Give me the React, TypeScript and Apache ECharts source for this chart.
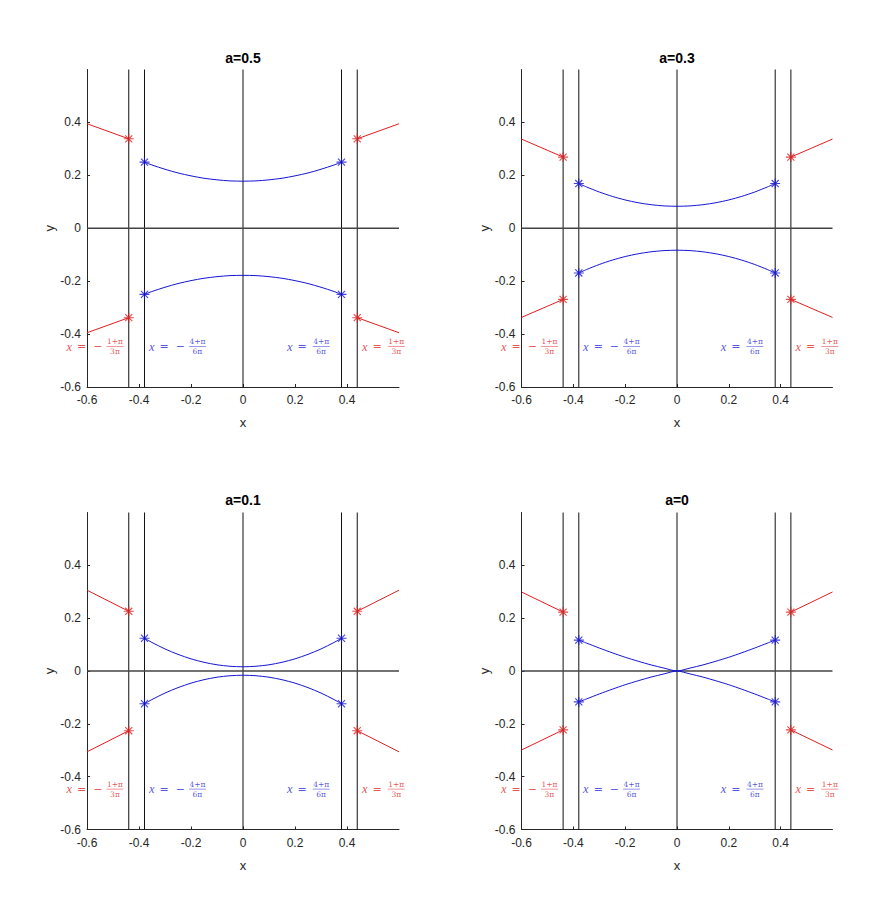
import React, { useEffect, useRef } from 'react';
import * as echarts from 'echarts';

// ---------- data ----------
const TITLES = ['a=0.5', 'a=0.3', 'a=0.1', 'a=0'];
const X_TICKS = [-0.6, -0.4, -0.2, 0, 0.2, 0.4];
const Y_TICKS = [-0.6, -0.4, -0.2, 0, 0.2, 0.4];
const X_MIN = -0.6;
const X_MAX = 0.6;
const Y_MIN = -0.6;
const Y_MAX = 0.6;

// vertical reference lines: -(1+pi)/(3pi), -(4+pi)/(6pi), 0, (4+pi)/(6pi), (1+pi)/(3pi)
const V_LINES = [-0.4394, -0.3789, 0, 0.3789, 0.4394];
const RED_INNER_X = 0.4394;
const RED_OUTER_X = 0.6;

// blue branch, right half (x >= 0); mirrored for x < 0, negated for lower branch
const BLUE_HALF_X = [0, 0.05, 0.1, 0.15, 0.2, 0.25, 0.3, 0.35, 0.3789];
const BLUE_A05 = [0.178, 0.179, 0.183, 0.189, 0.198, 0.209, 0.223, 0.239, 0.25];
const BLUE_A03 = [0.083, 0.0845, 0.089, 0.0965, 0.107, 0.1205, 0.137, 0.1565, 0.169];
const BLUE_A01 = [0.016, 0.018, 0.0235, 0.033, 0.046, 0.063, 0.0835, 0.108, 0.124];
const BLUE_A0 = [0, 0.011, 0.023, 0.037, 0.052, 0.069, 0.087, 0.106, 0.117];
const BLUE_Y = [BLUE_A05, BLUE_A03, BLUE_A01, BLUE_A0];

// red branch: [y at |x|=0.4394, y at |x|=0.6]
const RED_A05 = [0.338, 0.395];
const RED_A03 = [0.269, 0.337];
const RED_A01 = [0.226, 0.306];
const RED_A0 = [0.223, 0.299];
const RED_Y = [RED_A05, RED_A03, RED_A01, RED_A0];

// annotation texts
const LABEL_Y = -0.447;
const LABEL_FRAC_X = [-0.527, -0.21, 0.266, 0.555];
const LABEL_NUM = ['1+π', '4+π', '4+π', '1+π'];
const LABEL_DEN = ['3π', '6π', '6π', '3π'];
const LABEL_NEG = [true, true, false, false];
const LABEL_COLOR = ['#e02828', '#2828d8', '#2828d8', '#e02828'];

// ---------- layout / style ----------
const GRIDS = [
  { left: 87, top: 69.5, width: 312, height: 317.5 },
  { left: 521.5, top: 69.5, width: 311, height: 317.5 },
  { left: 87, top: 512.5, width: 312, height: 317 },
  { left: 521.5, top: 512.5, width: 311, height: 317 },
];
const TITLE_Y = [58, 58, 500, 500];
const SANS = '"Liberation Sans", Arial, Helvetica, sans-serif';
const SERIF = '"DejaVu Serif", "Liberation Serif", serif';
const ITALIC = '"Liberation Serif", "DejaVu Serif", serif';
const AXIS_COLOR = '#262626';
const BLUE = '#1414d2';
const RED = '#e01e1e';
const STAR = 'path://M5,0L5,10M0,5L10,5M1.46,1.46L8.54,8.54M1.46,8.54L8.54,1.46';

function tickFmt(v: number) {
  if (Math.abs(v - 0.6) < 1e-9) return '';
  const r = Math.round(v * 10) / 10;
  return String(r === 0 ? 0 : r);
}

function buildSeries(g: number) {
  const s: any[] = [];
  const common = { xAxisIndex: g, yAxisIndex: g, silent: true };
  V_LINES.forEach((x) =>
    s.push({
      ...common,
      type: 'line',
      data: [
        [x, Y_MIN],
        [x, Y_MAX],
      ],
      symbol: 'none',
      lineStyle: { color: '#111', width: 1 },
      z: 1,
    })
  );
  s.push({
    ...common,
    type: 'line',
    data: [
      [X_MIN, 0],
      [X_MAX, 0],
    ],
    symbol: 'none',
    lineStyle: { color: '#444', width: 1.3 },
    z: 1,
  });

  const half = BLUE_Y[g];
  const fullX = [...BLUE_HALF_X.slice(1).reverse().map((v) => -v), ...BLUE_HALF_X];
  const fullY = [...half.slice(1).reverse(), ...half];
  [1, -1].forEach((sign) =>
    s.push({
      ...common,
      type: 'line',
      data: fullX.map((x, i) => [x, sign * fullY[i]]),
      symbol: 'none',
      smooth: 0.25,
      lineStyle: { color: BLUE, width: 1 },
      z: 3,
    })
  );

  const [inner, outer] = RED_Y[g];
  [1, -1].forEach((side) =>
    [1, -1].forEach((sign) =>
      s.push({
        ...common,
        type: 'line',
        data: [
          [side * RED_INNER_X, sign * inner],
          [side * RED_OUTER_X, sign * outer],
        ],
        symbol: 'none',
        lineStyle: { color: RED, width: 1 },
        z: 3,
      })
    )
  );

  const endBlue = half[half.length - 1];
  const endX = BLUE_HALF_X[BLUE_HALF_X.length - 1];
  s.push({
    ...common,
    type: 'scatter',
    symbol: STAR,
    symbolSize: 10,
    itemStyle: { color: 'rgba(0,0,0,0)', borderColor: BLUE, borderWidth: 1.1 },
    data: [
      [-endX, endBlue],
      [endX, endBlue],
      [-endX, -endBlue],
      [endX, -endBlue],
    ],
    z: 5,
  });
  s.push({
    ...common,
    type: 'scatter',
    symbol: STAR,
    symbolSize: 10,
    itemStyle: { color: 'rgba(0,0,0,0)', borderColor: RED, borderWidth: 1.1 },
    data: [
      [-RED_INNER_X, inner],
      [RED_INNER_X, inner],
      [-RED_INNER_X, -inner],
      [RED_INNER_X, -inner],
    ],
    z: 5,
  });

  // annotations
  const labelData: any[] = [];
  LABEL_FRAC_X.forEach((x, i) => {
    const color = LABEL_COLOR[i];
    labelData.push({
      value: [x, LABEL_Y],
      label: {
        show: true,
        position: 'left',
        distance: LABEL_NEG[i] ? 3 : 5,
        formatter: LABEL_NEG[i] ? '{i|x}{o|=}{m|−}' : '{i|x}{o|=}',
        rich: {
          i: { fontFamily: ITALIC, fontStyle: 'italic', fontSize: 12.5, color, lineHeight: 8 },
          o: { fontFamily: SERIF, fontSize: 11, color, padding: [0, 0, 0, 5], lineHeight: 8 },
          m: { fontFamily: SERIF, fontSize: 11, color, padding: [0, 0, 0, 7], lineHeight: 8 },
        },
      },
    });
    labelData.push({
      value: [x, LABEL_Y],
      label: {
        show: true,
        position: 'right',
        distance: 0,
        formatter: `{n|${LABEL_NUM[i]}}\n{b|}\n{d|${LABEL_DEN[i]}}`,
        rich: {
          n: { fontFamily: SERIF, fontSize: 7.5, color, width: 17, align: 'center', lineHeight: 8 },
          b: { width: 17, height: 0.6, lineHeight: 2, backgroundColor: color, align: 'center' },
          d: { fontFamily: SERIF, fontSize: 7.5, color, width: 17, align: 'center', lineHeight: 8 },
        },
      },
    });
  });
  s.push({
    ...common,
    type: 'scatter',
    symbolSize: 1,
    itemStyle: { color: 'rgba(0,0,0,0)' },
    data: labelData,
    z: 6,
  });
  return s;
}

export default function App() {
  const ref = useRef<HTMLDivElement>(null);
  useEffect(() => {
    if (!ref.current) return;
    const chart = echarts.init(ref.current, null, { renderer: 'svg' });
    const axisText = { fontFamily: SANS, fontSize: 12, color: AXIS_COLOR, lineHeight: 12 };
    const option: any = {
      animation: false,
      backgroundColor: '#fff',
      grid: GRIDS.map((g) => ({ ...g, containLabel: false })),
      xAxis: GRIDS.map((_, i) => ({
        type: 'value',
        gridIndex: i,
        min: X_MIN,
        max: X_MAX,
        interval: 0.2,
        axisLine: { show: true, onZero: false, lineStyle: { color: AXIS_COLOR, width: 1 } },
        axisTick: { show: true, inside: true, length: 3, customValues: X_TICKS, lineStyle: { color: AXIS_COLOR } },
        axisLabel: { ...axisText, margin: 7, customValues: X_TICKS, formatter: tickFmt },
        splitLine: { show: false },
        name: 'x',
        nameLocation: 'middle',
        nameGap: 29,
        nameTextStyle: { fontFamily: SANS, fontSize: 13, color: AXIS_COLOR },
      })),
      yAxis: GRIDS.map((_, i) => ({
        type: 'value',
        gridIndex: i,
        min: Y_MIN,
        max: Y_MAX,
        interval: 0.2,
        axisLine: { show: true, onZero: false, lineStyle: { color: AXIS_COLOR, width: 1 } },
        axisTick: { show: true, inside: true, length: 3, customValues: Y_TICKS, lineStyle: { color: AXIS_COLOR } },
        axisLabel: { ...axisText, margin: 6, customValues: Y_TICKS, formatter: tickFmt },
        splitLine: { show: false },
        name: 'y',
        nameLocation: 'middle',
        nameGap: 30,
        nameTextStyle: { fontFamily: SANS, fontSize: 13, color: AXIS_COLOR },
      })),
      graphic: TITLES.map((t, i) => ({
        type: 'text',
        x: GRIDS[i].left + GRIDS[i].width / 2,
        y: TITLE_Y[i],
        style: {
          text: t,
          align: 'center',
          verticalAlign: 'middle',
          fontFamily: SANS,
          fontSize: 14,
          fontWeight: 'bold',
          fill: '#000',
        },
      })),
      series: GRIDS.flatMap((_, i) => buildSeries(i)),
    };
    chart.setOption(option);
    return () => chart.dispose();
  }, []);
  return (
    <div
      ref={ref}
      style={{ position: 'absolute', left: 0, top: 0, width: 889, height: 913, background: '#fff' }}
    />
  );
}
